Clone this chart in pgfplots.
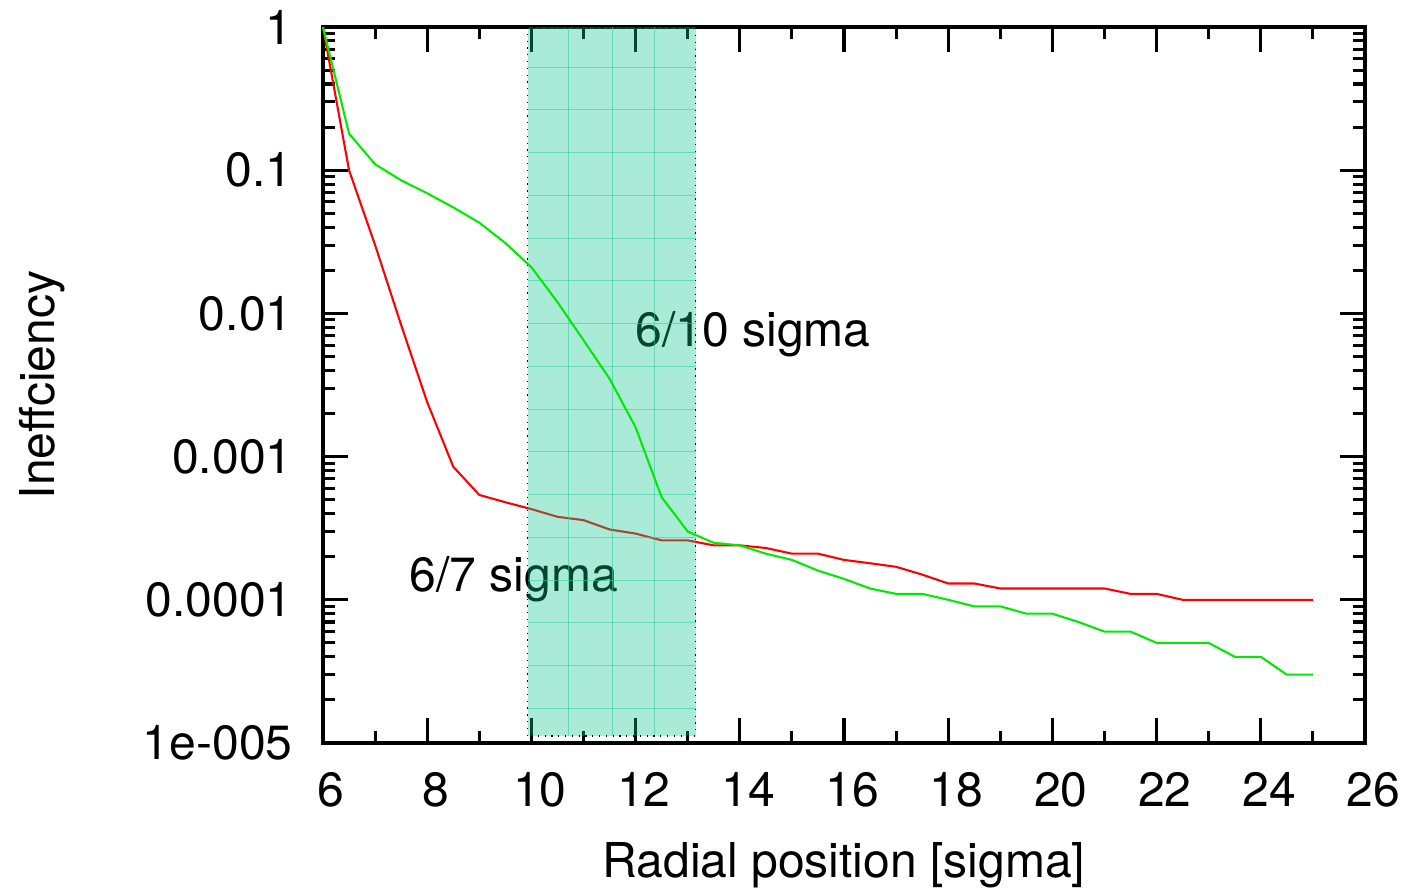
\documentclass[border=0pt]{standalone}
\usepackage{fontspec}
\setmainfont{TeX Gyre Heros}
\usepackage{pgfplots}
\pgfplotsset{compat=1.18}
\definecolor{redc}{RGB}{255,0,0}
\definecolor{greenc}{RGB}{0,235,0}
\definecolor{shadecol}{RGB}{12,198,140}
\definecolor{gridc}{RGB}{60,205,160}
\newcommand{\fs}{\fontsize{17.3}{20.8}\selectfont}
\begin{document}
\begin{tikzpicture}[font=\fs]
\begin{axis}[
  name=ax,
  scale only axis,
  width=375.12pt, height=257.76pt,
  xmin=6, xmax=26,
  ymode=log, ymin=1e-5, ymax=1,
  xtick={6,8,...,26},
  xticklabels={6,8,10,12,14,16,18,20,22,24,26},
  minor xtick={7,9,...,25},
  ytick={1e-5,1e-4,1e-3,1e-2,1e-1,1},
  yticklabels={1e-005,0.0001,0.001,0.01,0.1,1},
  minor ytick={2e-5,3e-5,4e-5,5e-5,6e-5,7e-5,8e-5,9e-5,
               2e-4,3e-4,4e-4,5e-4,6e-4,7e-4,8e-4,9e-4,
               2e-3,3e-3,4e-3,5e-3,6e-3,7e-3,8e-3,9e-3,
               2e-2,3e-2,4e-2,5e-2,6e-2,7e-2,8e-2,9e-2,
               2e-1,3e-1,4e-1,5e-1,6e-1,7e-1,8e-1,9e-1},
  tick align=inside,
  xtick pos=both, ytick pos=both,
  major tick length=9pt,
  minor tick length=4.5pt,
  every tick/.style={black, line width=1.1pt},
  axis line style={line width=1.1pt},
  xticklabel style={font=\fs, anchor=base, yshift=-22.7pt, xshift=3pt},
  yticklabel style={font=\fs, anchor=east, inner sep=0pt, xshift=-10.8pt},
  xlabel={Radial position [sigma]},
  ylabel={Ineffciency},
  xlabel style={font=\fs, at={(rel axis cs:0.5,-0.1872)}, anchor=base},
  every axis y label/.style={at={(rel axis cs:-0.258,0.5)}, anchor=base, rotate=90},
  clip=false,
]
% 6/7 sigma
\addplot[redc, line width=0.75pt] coordinates {
(6,1) (6.5,0.1) (7,0.03) (7.5,0.0083) (8,0.0024) (8.5,0.00085) (9,0.00054)
(9.5,0.00048) (10,0.00043) (10.5,0.00038) (11,0.00036) (11.5,0.00031)
(12,0.00029) (12.5,0.00026) (13,0.00026) (13.5,0.00024) (14,0.00024)
(14.5,0.00023) (15,0.00021) (15.5,0.00021) (16,0.00019) (16.5,0.00018)
(17,0.00017) (17.5,0.00015) (18,0.00013) (18.5,0.00013) (19,0.00012)
(19.5,0.00012) (20,0.00012) (20.5,0.00012) (21,0.00012) (21.5,0.00011)
(22,0.00011) (22.5,0.0001) (23,0.0001) (23.5,0.0001) (24,0.0001)
(24.5,0.0001) (25,0.0001)
};
\node[anchor=base west, font=\fs, inner sep=0pt] at (axis cs:11.99,0.0059) {6/10 sigma};
\node[anchor=base west, font=\fs, inner sep=0pt] at (axis cs:7.65,1.15e-4) {6/7 sigma};
% shaded region
\fill[fill=shadecol, fill opacity=0.35] (axis cs:9.93,1.12e-5) rectangle (axis cs:13.15,1);
\pgfplotsinvokeforeach{10.72,11.55,12.37}{
  \draw[draw=gridc, line width=0.35pt, draw opacity=0.6] (axis cs:#1,1.12e-5) -- (axis cs:#1,1);
}
\pgfplotsinvokeforeach{0,...,15}{
  \draw[draw=gridc, line width=0.35pt, draw opacity=0.6] (rel axis cs:0.1965,{0.94413-#1*0.059707}) -- (rel axis cs:0.3575,{0.94413-#1*0.059707});
}
\draw[black, dotted, line width=0.45pt] (axis cs:9.93,1.12e-5) rectangle (axis cs:13.15,1);
% 6/10 sigma
\addplot[greenc, line width=0.75pt] coordinates {
(6,1) (6.5,0.18) (7,0.11) (7.5,0.085) (8,0.069) (8.5,0.055) (9,0.043)
(9.5,0.031) (10,0.021) (10.5,0.012) (11,0.0065) (11.5,0.0035) (12,0.0016)
(12.5,0.00052) (13,0.0003) (13.5,0.00025) (14,0.00024) (14.5,0.00021)
(15,0.00019) (15.5,0.00016) (16,0.00014) (16.5,0.00012) (17,0.00011)
(17.5,0.00011) (18,0.0001) (18.5,0.00009) (19,0.00009) (19.5,0.00008)
(20,0.00008) (20.5,0.00007) (21,0.00006) (21.5,0.00006) (22,0.00005)
(22.5,0.00005) (23,0.00005) (23.5,0.00004) (24,0.00004) (24.5,0.00003)
(25,0.00003)
};
\end{axis}
\pgfresetboundingbox
\path ([shift={(-116.28pt,-53.28pt)}]ax.south west) rectangle ([shift={(13.68pt,9.72pt)}]ax.north east);
\end{tikzpicture}
\end{document}
